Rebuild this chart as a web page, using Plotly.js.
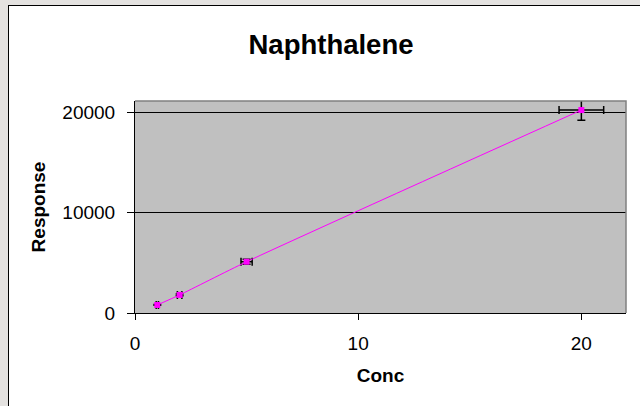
<!DOCTYPE html>
<html>
<head>
<meta charset="utf-8">
<script src="https://cdn.plot.ly/plotly-3.0.1.min.js"></script>
<style>
html,body{margin:0;padding:0;background:#e4e2e0;overflow:hidden;}
#wrap{position:relative;width:640px;height:406px;}
#box{position:absolute;left:8px;top:5px;width:640px;height:410px;background:#ffffff;border-left:1.5px solid #000;border-top:1.5px solid #000;}
#chart{position:absolute;left:0;top:0;width:640px;height:406px;}
</style>
</head>
<body>
<div id="wrap">
<div id="box"></div>
<div id="chart"></div>
</div>
<script>
// Data
const conc = [1, 2, 5, 20];
const response = [800, 1800, 5100, 20200];
const errorPercent = 5;
const xTicks = [0, 10, 20];
const yTicks = [0, 10000, 20000];
const chartTitle = 'Naphthalene';
const xTitle = 'Conc';
const yTitle = 'Response';

const FONT = 'Liberation Sans, Arial, sans-serif';

const trace = {
  x: conc,
  y: response,
  type: 'scatter',
  mode: 'lines+markers',
  line: {color: '#ff00ff', width: 1, shape: 'spline', smoothing: 0.6},
  marker: {symbol: 'square', size: 6, color: '#ff00ff'},
  error_x: {type: 'percent', value: errorPercent, color: '#000000', thickness: 1.5, width: 4},
  error_y: {type: 'percent', value: errorPercent, color: '#000000', thickness: 1.5, width: 4},
  showlegend: false,
  hoverinfo: 'x+y'
};

const L = 135, R = 626, T = 101, B = 313;

const layout = {
  width: 640,
  height: 406,
  margin: {l: L, r: 640 - R, t: T, b: 406 - B, pad: 0},
  paper_bgcolor: 'rgba(0,0,0,0)',
  plot_bgcolor: '#c0c0c0',
  font: {family: FONT, color: '#000000', size: 19},
  title: {
    text: '<b>' + chartTitle + '</b>',
    font: {family: FONT, size: 27.5, color: '#000000'},
    xref: 'container', yref: 'container',
    x: 331 / 640, xanchor: 'center',
    y: 1 - 44 / 406, yanchor: 'middle'
  },
  xaxis: {
    range: [0, 22],
    tickvals: xTicks,
    ticktext: xTicks.map(String),
    ticks: 'outside', ticklen: 6, tickwidth: 1, tickcolor: '#000000',
    showline: true, linecolor: '#000000', linewidth: 1,
    showgrid: false, zeroline: false,
    tickfont: {family: FONT, size: 19, color: '#000000'},
    ticklabelstandoff: 7,
    title: {text: '<b>' + xTitle + '</b>', font: {family: FONT, size: 19, color: '#000000'}, standoff: 15},
    fixedrange: true
  },
  yaxis: {
    range: [0, 21100],
    tickvals: yTicks,
    ticktext: yTicks.map(String),
    ticks: 'outside', ticklen: 7, tickwidth: 1, tickcolor: '#000000',
    showline: true, linecolor: '#000000', linewidth: 1,
    showgrid: true, gridcolor: '#000000', gridwidth: 1,
    zeroline: false,
    tickfont: {family: FONT, size: 19, color: '#000000'},
    ticklabelstandoff: 8,
    title: {text: '<b>' + yTitle + '</b>', font: {family: FONT, size: 19, color: '#000000'}, standoff: 11},
    fixedrange: true
  },
  shapes: [
    {
      type: 'path', xref: 'paper', yref: 'paper', layer: 'above',
      path: 'M 0,1 L 1,1 L 1,0',
      line: {color: '#808080', width: 1.5}
    }
  ]
};

Plotly.newPlot('chart', [trace], layout, {displayModeBar: false, staticPlot: true});
</script>
</body>
</html>
